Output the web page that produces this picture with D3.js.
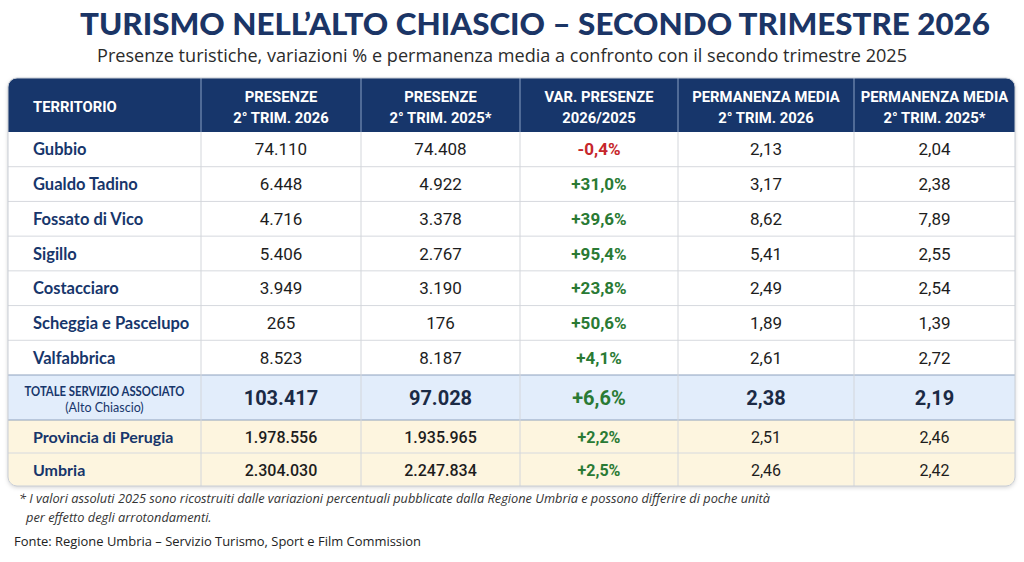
<!DOCTYPE html>
<html>
<head>
<meta charset="utf-8">
<script src="https://cdn.jsdelivr.net/npm/d3@7"></script>
<style>
  body { margin: 0; background: #ffffff; }
  svg { display: block; }
</style>
</head>
<body>
<div id="chart"></div>
<script>
// dati
var TERRITORI = ["Gubbio", "Gualdo Tadino", "Fossato di Vico", "Sigillo", "Costacciaro", "Scheggia e Pascelupo", "Valfabbrica"];
var PRESENZE_2026 = [74110, 6448, 4716, 5406, 3949, 265, 8523];
var PRESENZE_2025 = [74408, 4922, 3378, 2767, 3190, 176, 8187];
var VARIAZIONE = [-0.4, 31.0, 39.6, 95.4, 23.8, 50.6, 4.1];
var PERM_2026 = [2.13, 3.17, 8.62, 5.41, 2.49, 1.89, 2.61];
var PERM_2025 = [2.04, 2.38, 7.89, 2.55, 2.54, 1.39, 2.72];

var TOTALE = ["TOTALE SERVIZIO ASSOCIATO", "(Alto Chiascio)"];
var TOTALE_VALORI = [103417, 97028, 6.6, 2.38, 2.19];

var AREE = ["Provincia di Perugia", "Umbria"];
var AREE_PRESENZE_2026 = [1978556, 2304030];
var AREE_PRESENZE_2025 = [1935965, 2247834];
var AREE_VARIAZIONE = [2.2, 2.5];
var AREE_PERM_2026 = [2.51, 2.46];
var AREE_PERM_2025 = [2.46, 2.42];

var INTESTAZIONI = [
    ["TERRITORIO"],
    ["PRESENZE", "2° TRIM. 2026"],
    ["PRESENZE", "2° TRIM. 2025*"],
    ["VAR. PRESENZE", "2026/2025"],
    ["PERMANENZA MEDIA", "2° TRIM. 2026"],
    ["PERMANENZA MEDIA", "2° TRIM. 2025*"]
];

var TITOLO = "TURISMO NELL\u2019ALTO CHIASCIO \u2013 SECONDO TRIMESTRE 2026";
var SOTTOTITOLO = "Presenze turistiche, variazioni % e permanenza media a confronto con il secondo trimestre 2025";
var NOTA = [
    "* I valori assoluti 2025 sono ricostruiti dalle variazioni percentuali pubblicate dalla Regione Umbria e possono differire di poche unità",
    "per effetto degli arrotondamenti."
];
var FONTE = "Fonte: Regione Umbria \u2013 Servizio Turismo, Sport e Film Commission";

// layout
var WIDTH = 1024, HEIGHT = 562;
var COL_EDGES = [8, 201, 361, 520, 678, 854, 1015];
var NAVY = "#17366b";
var GREEN = "#2a7a34";
var RED = "#c6262b";
var NUM_FONT = "Roboto, 'Liberation Sans', sans-serif";
var NAME_FONT = "Lato, 'Open Sans', sans-serif";

var it = d3.formatLocale({decimal: ",", thousands: ".", grouping: [3], currency: ["€", ""]});
var fmtInt = it.format(",d");
var fmtDec = it.format(".2f");
var fmtPct = function(v) { return it.format("+.1f")(v).replace("−", "-") + "%"; };

var svg = d3.select("#chart").append("svg")
    .attr("width", WIDTH)
    .attr("height", HEIGHT);

var defs = svg.append("defs");
var shadow = defs.append("filter").attr("id", "ombra").attr("x", "-5%").attr("y", "-5%").attr("width", "110%").attr("height", "115%");
shadow.append("feDropShadow").attr("dx", 0).attr("dy", 1.5).attr("stdDeviation", 2).attr("flood-color", "#000").attr("flood-opacity", 0.18);

// titoli
svg.append("text")
    .attr("x", 535).attr("y", 35)
    .attr("text-anchor", "middle")
    .attr("font-family", NAME_FONT)
    .attr("font-weight", 900)
    .attr("font-size", 31)
    .attr("fill", "#1b3566")
    .attr("textLength", 910)
    .attr("lengthAdjust", "spacingAndGlyphs")
    .text(TITOLO);

svg.append("text")
    .attr("x", 502).attr("y", 62)
    .attr("text-anchor", "middle")
    .attr("font-family", "'Open Sans', sans-serif")
    .attr("font-size", 17.5)
    .attr("fill", "#2b2b2b")
    .attr("textLength", 810)
    .attr("lengthAdjust", "spacingAndGlyphs")
    .text(SOTTOTITOLO);

// scale verticali
var yHead = [78, 132];
var yRows = d3.scaleBand().domain(d3.range(TERRITORI.length)).range([132, 375]);
var yTot = [375, 420];
var yAree = d3.scaleBand().domain(d3.range(AREE.length)).range([420, 486]);
var colMid = function(i) { return (COL_EDGES[i] + COL_EDGES[i + 1]) / 2; };
var left = COL_EDGES[0], right = COL_EDGES[COL_EDGES.length - 1];

// sfondo tabella con ombra e angoli arrotondati
var clip = defs.append("clipPath").attr("id", "tabclip");
clip.append("rect").attr("x", left).attr("y", yHead[0]).attr("width", right - left).attr("height", 486 - yHead[0]).attr("rx", 9);

svg.append("rect")
    .attr("x", left).attr("y", yHead[0])
    .attr("width", right - left).attr("height", 486 - yHead[0])
    .attr("rx", 9)
    .attr("fill", "#fff")
    .attr("filter", "url(#ombra)");

var tab = svg.append("g").attr("clip-path", "url(#tabclip)");

// intestazione
tab.append("rect")
    .attr("x", left).attr("y", yHead[0])
    .attr("width", right - left).attr("height", yHead[1] - yHead[0])
    .attr("fill", NAVY);

// righe aree (crema)
tab.selectAll("rect.area").data(AREE).enter().append("rect")
    .attr("class", "area")
    .attr("x", left).attr("y", function(d, i) { return yAree(i); })
    .attr("width", right - left).attr("height", yAree.bandwidth())
    .attr("fill", "#fdf5df");

// riga totale
tab.append("rect")
    .attr("x", left).attr("y", yTot[0])
    .attr("width", right - left).attr("height", yTot[1] - yTot[0])
    .attr("fill", "#e2edfb");

// linee orizzontali
var hLines = yRows.domain().slice(1).map(function(i) { return yRows(i); })
    .concat(yAree.domain().slice(1).map(function(i) { return yAree(i); }));
tab.selectAll("line.h").data(hLines).enter().append("line")
    .attr("x1", left).attr("x2", right)
    .attr("y1", function(d) { return d; }).attr("y2", function(d) { return d; })
    .attr("stroke", "#d6d9de").attr("stroke-width", 1);

tab.selectAll("line.tot").data(yTot).enter().append("line")
    .attr("x1", left).attr("x2", right)
    .attr("y1", function(d) { return d; }).attr("y2", function(d) { return d; })
    .attr("stroke", "#8ea1bd").attr("stroke-width", 1.2);

// linee verticali
tab.selectAll("line.vh").data(COL_EDGES.slice(1, -1)).enter().append("line")
    .attr("x1", function(d) { return d; }).attr("x2", function(d) { return d; })
    .attr("y1", yHead[0]).attr("y2", yHead[1])
    .attr("stroke", "#8aa0c4").attr("stroke-width", 1);

tab.selectAll("line.v").data(COL_EDGES.slice(1, -1)).enter().append("line")
    .attr("x1", function(d) { return d; }).attr("x2", function(d) { return d; })
    .attr("y1", yHead[1]).attr("y2", 486)
    .attr("stroke", "#d3d6db").attr("stroke-width", 1);

// bordo esterno
svg.append("rect")
    .attr("x", left).attr("y", yHead[0])
    .attr("width", right - left).attr("height", 486 - yHead[0])
    .attr("rx", 9)
    .attr("fill", "none")
    .attr("stroke", "#c9ced6").attr("stroke-width", 1);

// testo intestazione
INTESTAZIONI.forEach(function(lines, i) {
    var t = svg.append("text")
        .attr("font-family", NUM_FONT)
        .attr("font-weight", 700)
        .attr("font-size", 14.8)
        .attr("fill", "#fff")
        .attr("text-anchor", i === 0 ? "start" : "middle");
    var x = i === 0 ? 33 : colMid(i);
    var yc = (yHead[0] + yHead[1]) / 2;
    lines.forEach(function(l, k) {
        t.append("tspan")
            .attr("x", x)
            .attr("y", yc + 7 + (k - (lines.length - 1) / 2) * 21)
            .text(l);
    });
});

// righe comuni
function drawRow(y, h, name, vals, opts) {
    var cy = y + h / 2 + 6;
    if (name) {
        svg.append("text")
            .attr("x", 33).attr("y", cy)
            .attr("font-family", NAME_FONT)
            .attr("font-weight", 700)
            .attr("font-size", opts.nameSize)
            .attr("fill", NAVY)
            .text(name);
    }
    vals.forEach(function(v, j) {
        var col = j + 1;
        var txt, fill = opts.numColor || "#1d1d1d";
        var weight = j <= 1 ? opts.numWeight : (opts.permWeight || opts.numWeight);
        if (j <= 1) txt = fmtInt(v);
        else if (j === 2) { txt = fmtPct(v); fill = v < 0 ? RED : GREEN; weight = 700; }
        else txt = fmtDec(v);
        svg.append("text")
            .attr("x", colMid(col)).attr("y", cy + (opts.dy || 0))
            .attr("text-anchor", "middle")
            .attr("font-family", NUM_FONT)
            .attr("font-weight", weight)
            .attr("font-size", opts.numSize)
            .attr("fill", fill)
            .text(txt);
    });
}

TERRITORI.forEach(function(n, i) {
    drawRow(yRows(i), yRows.bandwidth(), n,
        [PRESENZE_2026[i], PRESENZE_2025[i], VARIAZIONE[i], PERM_2026[i], PERM_2025[i]],
        {nameSize: 16.5, numSize: 17, numWeight: 400});
});

// totale
svg.append("text")
    .attr("x", colMid(0)).attr("y", yTot[0] + 21)
    .attr("text-anchor", "middle")
    .attr("font-family", NAME_FONT)
    .attr("font-weight", 700)
    .attr("font-size", 12.5)
    .attr("fill", NAVY)
    .attr("textLength", 160)
    .attr("lengthAdjust", "spacingAndGlyphs")
    .text(TOTALE[0]);
svg.append("text")
    .attr("x", colMid(0)).attr("y", yTot[0] + 37)
    .attr("text-anchor", "middle")
    .attr("font-family", NAME_FONT)
    .attr("font-weight", 400)
    .attr("font-size", 12.5)
    .attr("fill", NAVY)
    .text(TOTALE[1]);
drawRow(yTot[0], yTot[1] - yTot[0], null, TOTALE_VALORI,
    {numSize: 20, numWeight: 700, numColor: "#1b2a45", dy: 1});

AREE.forEach(function(n, i) {
    drawRow(yAree(i), yAree.bandwidth(), n,
        [AREE_PRESENZE_2026[i], AREE_PRESENZE_2025[i], AREE_VARIAZIONE[i], AREE_PERM_2026[i], AREE_PERM_2025[i]],
        {nameSize: 16, numSize: 16, numWeight: 500, permWeight: 400});
});

// note
svg.append("text")
    .attr("x", 19).attr("y", 503)
    .attr("font-family", "'Open Sans', sans-serif")
    .attr("font-style", "italic")
    .attr("font-size", 12.8)
    .attr("fill", "#333")
    .attr("textLength", 751)
    .attr("lengthAdjust", "spacingAndGlyphs")
    .text(NOTA[0]);
svg.append("text")
    .attr("x", 26).attr("y", 522)
    .attr("font-family", "'Open Sans', sans-serif")
    .attr("font-style", "italic")
    .attr("font-size", 12.8)
    .attr("fill", "#333")
    .text(NOTA[1]);
svg.append("text")
    .attr("x", 14).attr("y", 546)
    .attr("font-family", "'Open Sans', sans-serif")
    .attr("font-size", 13.5)
    .attr("fill", "#222")
    .attr("textLength", 407)
    .attr("lengthAdjust", "spacingAndGlyphs")
    .text(FONTE);
</script>
</body>
</html>
